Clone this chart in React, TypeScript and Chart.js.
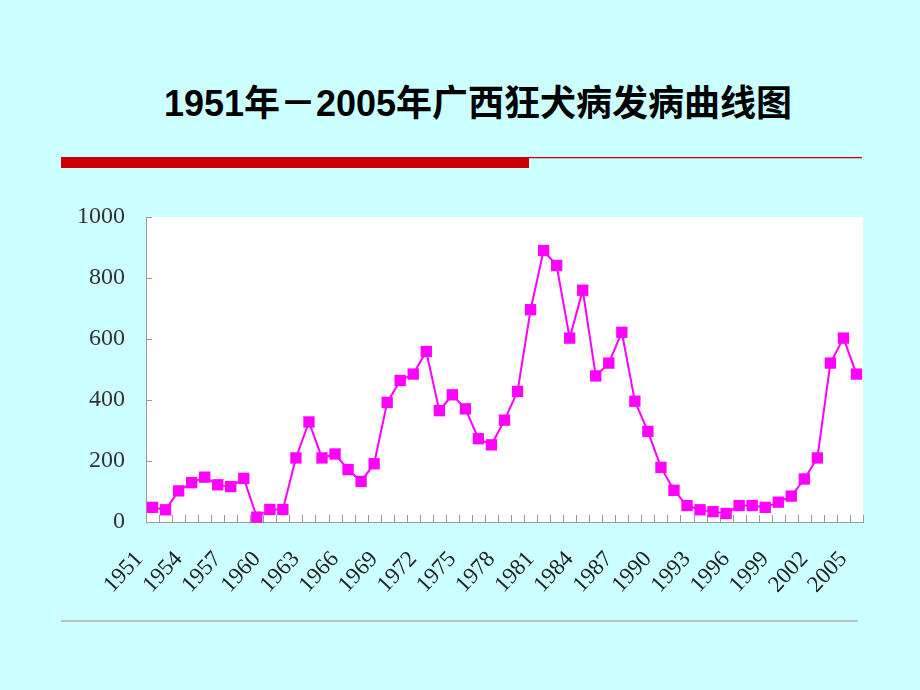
import React, { useEffect, useRef } from 'react';
import { Chart, registerables } from 'chart.js';

Chart.register(...registerables);

const years: string[] = [
  '1951', '1952', '1953', '1954', '1955', '1956', '1957', '1958', '1959', '1960',
  '1961', '1962', '1963', '1964', '1965', '1966', '1967', '1968', '1969', '1970',
  '1971', '1972', '1973', '1974', '1975', '1976', '1977', '1978', '1979', '1980',
  '1981', '1982', '1983', '1984', '1985', '1986', '1987', '1988', '1989', '1990',
  '1991', '1992', '1993', '1994', '1995', '1996', '1997', '1998', '1999', '2000',
  '2001', '2002', '2003', '2004', '2005',
];

const cases: number[] = [
  48, 40, 102, 129, 147, 122, 116, 143, 16, 41,
  41, 210, 328, 210, 223, 172, 133, 191, 392, 464,
  485, 559, 365, 417, 371, 273, 253, 334, 428, 696,
  890, 841, 603, 760, 479, 521, 622, 396, 297, 179,
  104, 54, 40, 34, 28, 54, 54, 48, 65, 85,
  141, 210, 521, 603, 485,
];

const yTicks: number[] = [0, 200, 400, 600, 800, 1000];

const titleText = '1951年－2005年广西狂犬病发病曲线图';

const plotDecor = {
  id: 'plotDecor',
  beforeDraw(chart: any) {
    const { ctx, chartArea: a } = chart;
    ctx.save();
    ctx.fillStyle = '#ffffff';
    ctx.fillRect(a.left, a.top, a.right - a.left, a.bottom - a.top);
    ctx.restore();
  },
  beforeDatasetsDraw(chart: any) {
    const { ctx, chartArea: a } = chart;
    const xs = chart.scales.x;
    const ys = chart.scales.y;
    ctx.save();
    ctx.strokeStyle = '#9a9a9a';
    ctx.lineWidth = 1;
    ctx.beginPath();
    for (let k = 1; k <= years.length; k++) {
      const px = Math.round(xs.getPixelForValue(k - 0.5)) + 0.5;
      ctx.moveTo(px, a.bottom);
      ctx.lineTo(px, a.bottom - 7);
    }
    for (const t of yTicks) {
      const py = Math.round(ys.getPixelForValue(t)) + 0.5;
      ctx.moveTo(a.left, py);
      ctx.lineTo(a.left + 6, py);
    }
    ctx.stroke();
    ctx.restore();
  },
};

export default function App() {
  const canvasRef = useRef<HTMLCanvasElement | null>(null);

  useEffect(() => {
    const canvas = canvasRef.current;
    if (!canvas) return;
    const chart = new Chart(canvas, {
      type: 'line',
      data: {
        labels: years,
        datasets: [
          {
            data: cases,
            borderColor: '#ff00ff',
            backgroundColor: '#ff00ff',
            borderWidth: 2,
            pointStyle: 'rect',
            pointRadius: 8,
            pointBorderWidth: 0,
            pointBackgroundColor: '#ff00ff',
            tension: 0,
            clip: false,
          } as any,
        ],
      },
      options: {
        animation: false,
        responsive: false,
        maintainAspectRatio: false,
        layout: { padding: { left: 0, right: 57, top: 217, bottom: 0 } },
        plugins: {
          legend: { display: false },
          tooltip: { enabled: false },
          title: { display: false },
        },
        scales: {
          x: {
            type: 'category',
            offset: true,
            grid: { display: false, offset: true, drawTicks: false },
            border: { display: true, color: '#9a9a9a', width: 1 },
            ticks: {
              autoSkip: false,
              maxRotation: 47,
              minRotation: 47,
              padding: 24,
              labelOffset: -13,
              color: '#222222',
              font: { family: '"Liberation Serif", "Times New Roman", serif', size: 23 },
              callback: (_v: any, i: number) => (i % 3 === 0 ? years[i] : ''),
            },
            afterFit: (s: any) => {
              s.height = 690 - 522;
            },
          },
          y: {
            min: 0,
            max: 1000,
            grid: { display: false, drawTicks: false },
            border: { display: true, color: '#9a9a9a', width: 1 },
            ticks: {
              stepSize: 200,
              padding: 21,
              color: '#333333',
              font: { family: '"Liberation Serif", "Times New Roman", serif', size: 24 },
              callback: (v: any) => String(v),
            },
            afterFit: (s: any) => {
              s.width = 146;
            },
          },
        },
      },
      plugins: [plotDecor],
    });
    return () => chart.destroy();
  }, []);

  return (
    <div
      style={{
        position: 'fixed',
        left: 0,
        top: 0,
        width: 920,
        height: 690,
        background: '#CCFFFF',
        overflow: 'hidden',
      }}
    >
      <div
        style={{
          position: 'absolute',
          left: 18,
          top: 84,
          width: 920,
          textAlign: 'center',
          fontFamily: '"Liberation Sans", Arial, "Noto Sans CJK SC", sans-serif',
          fontWeight: 'bold',
          fontSize: 36,
          lineHeight: '40px',
          color: '#000000',
        }}
      >
        {titleText}
      </div>
      <div style={{ position: 'absolute', left: 61, top: 157, width: 468, height: 11, background: '#CC0000' }} />
      <div style={{ position: 'absolute', left: 529, top: 157, width: 333, height: 1, background: '#CC0000' }} />
      <div style={{ position: 'absolute', left: 529, top: 158, width: 333, height: 1, background: '#C9B9B9' }} />
      <div style={{ position: 'absolute', left: 61, top: 620, width: 797, height: 2, background: '#C0C0C0' }} />
      <canvas
        ref={canvasRef}
        width={920}
        height={690}
        style={{ position: 'absolute', left: 0, top: 0, width: 920, height: 690 }}
      />
    </div>
  );
}
